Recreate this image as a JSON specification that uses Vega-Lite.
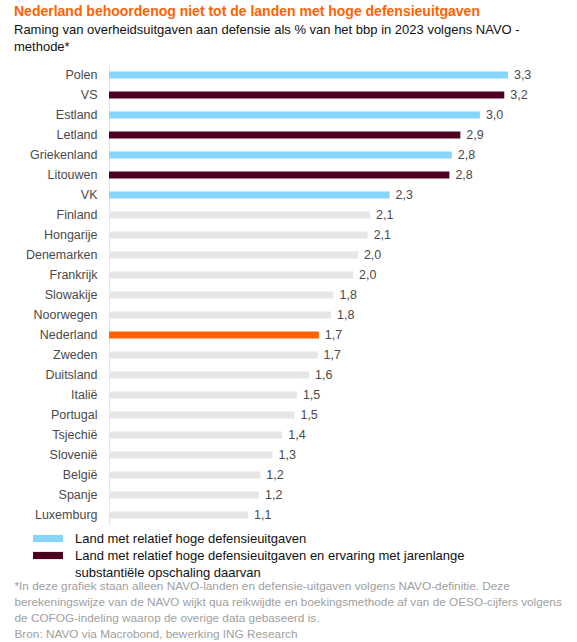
{
  "$schema": "https://vega.github.io/schema/vega-lite/v6.json",
  "width": 427,
  "height": {"step": 20},
  "padding": {"left": 14, "top": 5, "right": 5, "bottom": 0},
  "background": "white",
  "title": {
    "text": "Nederland behoordenog niet tot de landen met hoge defensieuitgaven",
    "subtitle": ["Raming van overheidsuitgaven aan defensie als % van het bbp in 2023 volgens NAVO -", "methode*"],
    "anchor": "start",
    "font": "Liberation Sans",
    "fontSize": 14,
    "fontWeight": "bold",
    "color": "#ff6200",
    "subtitleFont": "Liberation Sans",
    "subtitleFontSize": 13,
    "subtitleColor": "#111111",
    "subtitleLineHeight": 17,
    "subtitlePadding": 5,
    "offset": 11
  },
  "data": {
    "values": [
      {"land": "Polen", "waarde": 3.27, "label": "3,3", "groep": "hoog"},
      {"land": "VS", "waarde": 3.24, "label": "3,2", "groep": "ervaring"},
      {"land": "Estland", "waarde": 3.04, "label": "3,0", "groep": "hoog"},
      {"land": "Letland", "waarde": 2.88, "label": "2,9", "groep": "ervaring"},
      {"land": "Griekenland", "waarde": 2.81, "label": "2,8", "groep": "hoog"},
      {"land": "Litouwen", "waarde": 2.79, "label": "2,8", "groep": "ervaring"},
      {"land": "VK", "waarde": 2.3, "label": "2,3", "groep": "hoog"},
      {"land": "Finland", "waarde": 2.14, "label": "2,1", "groep": "overig"},
      {"land": "Hongarije", "waarde": 2.12, "label": "2,1", "groep": "overig"},
      {"land": "Denemarken", "waarde": 2.04, "label": "2,0", "groep": "overig"},
      {"land": "Frankrijk", "waarde": 2.0, "label": "2,0", "groep": "overig"},
      {"land": "Slowakije", "waarde": 1.84, "label": "1,8", "groep": "overig"},
      {"land": "Noorwegen", "waarde": 1.82, "label": "1,8", "groep": "overig"},
      {"land": "Nederland", "waarde": 1.72, "label": "1,7", "groep": "nl"},
      {"land": "Zweden", "waarde": 1.71, "label": "1,7", "groep": "overig"},
      {"land": "Duitsland", "waarde": 1.64, "label": "1,6", "groep": "overig"},
      {"land": "Italië", "waarde": 1.54, "label": "1,5", "groep": "overig"},
      {"land": "Portugal", "waarde": 1.52, "label": "1,5", "groep": "overig"},
      {"land": "Tsjechië", "waarde": 1.42, "label": "1,4", "groep": "overig"},
      {"land": "Slovenië", "waarde": 1.34, "label": "1,3", "groep": "overig"},
      {"land": "België", "waarde": 1.24, "label": "1,2", "groep": "overig"},
      {"land": "Spanje", "waarde": 1.23, "label": "1,2", "groep": "overig"},
      {"land": "Luxemburg", "waarde": 1.14, "label": "1,1", "groep": "overig"}
    ]
  },
  "encoding": {
    "y": {
      "field": "land",
      "type": "nominal",
      "sort": null,
      "scale": {"paddingInner": 0.64, "paddingOuter": 0.32},
      "axis": {
        "title": null,
        "ticks": false,
        "domain": true,
        "domainColor": "#e4e4e4",
        "domainWidth": 1,
        "labelPadding": 12,
        "labelFont": "Liberation Sans",
        "labelFontSize": 12.5,
        "labelColor": "#4a4a4a"
      }
    },
    "x": {
      "field": "waarde",
      "type": "quantitative",
      "scale": {"domain": [0, 3.5], "nice": false},
      "axis": {
        "domain": false,
        "ticks": false,
        "labels": false,
        "grid": false,
        "title": [
          "*In deze grafiek staan alleen NAVO-landen en defensie-uitgaven volgens NAVO-definitie. Deze",
          "berekeningswijze van de NAVO wijkt qua reikwijdte en boekingsmethode af van de OESO-cijfers volgens",
          "de COFOG-indeling waarop de overige data gebaseerd is.",
          "Bron: NAVO via Macrobond, bewerking ING Research"
        ],
        "titleFont": "Liberation Sans",
        "titleFontSize": 11.8,
        "titleFontWeight": "normal",
        "titleColor": "#a0a0a0",
        "titleLineHeight": 16.3,
        "titleAnchor": "start",
        "titleAlign": "left",
        "titleBaseline": "top",
        "titleX": -95,
        "titleY": 55
      }
    }
  },
  "layer": [
    {
      "mark": {"type": "bar"},
      "encoding": {
        "color": {
          "field": "groep",
          "type": "nominal",
          "scale": {
            "domain": ["hoog", "ervaring", "ervaring_vervolg", "nl", "overig"],
            "range": ["#89d4fa", "#4b0020", "#ffffff", "#ff6200", "#e6e6e6"]
          },
          "legend": {
            "values": ["hoog", "ervaring", "ervaring_vervolg"],
            "orient": "none",
            "legendX": -68.5,
            "legendY": 466,
            "direction": "vertical",
            "title": null,
            "symbolType": "M-2,-0.48H2V0.48H-2Z",
            "symbolSize": 225,
            "symbolStrokeWidth": 0,
            "labelOffset": 19.5,
            "labelFont": "Liberation Sans",
            "labelFontSize": 13,
            "labelColor": "#111111",
            "labelLimit": 600,
            "labelBaseline": "middle",
            "rowPadding": 2,
            "labelExpr": "datum.value == 'hoog' ? 'Land met relatief hoge defensieuitgaven' : datum.value == 'ervaring' ? 'Land met relatief hoge defensieuitgaven en ervaring met jarenlange' : 'substantiële opschaling daarvan'"
          }
        }
      }
    },
    {
      "mark": {
        "type": "text",
        "align": "left",
        "baseline": "middle",
        "dx": 6,
        "font": "Liberation Sans",
        "fontSize": 12.5,
        "color": "#4a4a4a"
      },
      "encoding": {"text": {"field": "label"}}
    }
  ],
  "config": {"view": {"stroke": null}}
}
